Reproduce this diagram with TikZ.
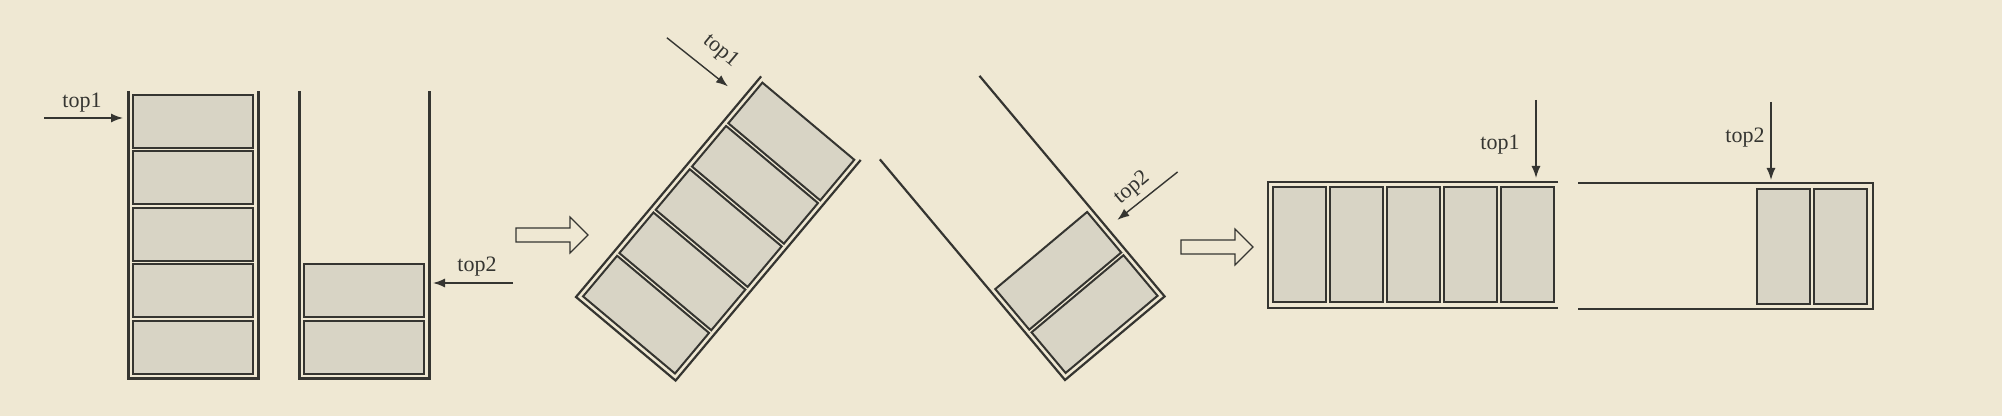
\documentclass[tikz,border=0pt]{standalone}
\usepackage{fontspec}
\setmainfont{Liberation Serif}
\usetikzlibrary{arrows.meta}

\definecolor{paper}{HTML}{EFE8D3}
\definecolor{cellgray}{HTML}{D8D4C5}
\definecolor{ink}{HTML}{353531}

\tikzset{
  wall/.style = {draw = ink, line width = 1.5pt, line join = miter},
  thin wall/.style = {wall, line width = 1.1pt},
  cell/.style = {draw = ink, line width = 1pt, fill = cellgray},
  pointer/.style = {draw = ink, line width = 0.7pt, -{Latex[length = 6pt, width = 4.5pt]}},
  toplabel/.style = {font = \fontsize{11}{13}\selectfont, text = ink, inner sep = 0pt},
  hollow arrow/.style = {draw = ink, line width = 0.6pt, fill = paper, line join = miter},
}

\begin{document}
\begin{tikzpicture}[x = 0.5pt, y = -0.5pt]
  \fill [paper] (0,0) rectangle (2002,416);
  \useasboundingbox (0,0) rectangle (2002,416);

  % standing stacks
  \begin{scope}[shift = {(128,379)}]
    \draw [wall] (0,-288) -- (0,0) -- (130,0) -- (130,-288);
    \foreach \k in {0,...,4}
      \draw [cell] (5,-5-56.5*\k) rectangle (125,-58-56.5*\k);
    \coordinate (tail1 a) at (-84,-261);
    \coordinate (tip1 a) at (-5,-261);
    \node [toplabel] (label1 a) at (-46,-276) {top1};
  \end{scope}
  \begin{scope}[shift = {(299,379)}]
    \draw [wall] (0,-288) -- (0,0) -- (130,0) -- (130,-288);
    \foreach \k in {0,1}
      \draw [cell] (5,-5-56.5*\k) rectangle (125,-58-56.5*\k);
    \coordinate (tail2 a) at (214,-96);
    \coordinate (tip2 a) at (134,-96);
    \node [toplabel] (label2 a) at (178,-112) {top2};
  \end{scope}
  \draw [pointer] (tail1 a) -- (tip1 a);
  \draw [pointer] (tail2 a) -- (tip2 a);

  % tilted stacks
  \begin{scope}[shift = {(576,297)}, rotate = -40]
    \draw [thin wall] (0,-288) -- (0,0) -- (130,0) -- (130,-288);
    \foreach \k in {0,...,4}
      \draw [cell] (5,-5-56.5*\k) rectangle (125,-58-56.5*\k);
    \coordinate (tail1 b) at (-97,-257);
    \coordinate (tip1 b) at (-19,-259);
    \node [toplabel, transform shape] (label1 b) at (-47,-281) {top1};
  \end{scope}
  \begin{scope}[shift = {(1065,380)}, rotate = 40]
    \draw [thin wall] (0,-288) -- (0,0) -- (130,0) -- (130,-288);
    \foreach \k in {0,1}
      \draw [cell] (5,-5-56.5*\k) rectangle (125,-58-56.5*\k);
    \coordinate (tail2 b) at (220,-87);
    \coordinate (tip2 b) at (143,-89);
    \node [toplabel, transform shape] (label2 b) at (175,-104) {top2};
  \end{scope}
  \draw [pointer] (tail1 b) -- (tip1 b);
  \draw [pointer] (tail2 b) -- (tip2 b);

  % lying stacks
  \begin{scope}[shift = {(1268,182)}, rotate = -90]
    \draw [wall, line width = 1.35pt] (0,-290) -- (0,0) -- (126,0) -- (126,-290);
    \foreach \k in {0,...,4}
      \draw [cell] (5,-5-57*\k) rectangle (120,-58-57*\k);
    \coordinate (tail1 c) at (-82,-268);
    \coordinate (tip1 c) at (-4,-268);
    \node [toplabel] (label1 c) at (-37,-232) {top1};
  \end{scope}
  \begin{scope}[shift = {(1873,309)}, rotate = 90]
    \draw [wall, line width = 1.35pt] (0,-295) -- (0,0) -- (126,0) -- (126,-295);
    \foreach \k in {0,1}
      \draw [cell] (5,-6-57*\k) rectangle (120,-59-57*\k);
    \coordinate (tail2 c) at (207,-102);
    \coordinate (tip2 c) at (129,-102);
    \node [toplabel] (label2 c) at (171,-128) {top2};
  \end{scope}
  \draw [pointer] (tail1 c) -- (tip1 c);
  \draw [pointer] (tail2 c) -- (tip2 c);

  % hollow step arrows
  \foreach \ax/\ay in {516/235, 1181/247}
    \draw [hollow arrow] (\ax,\ay) ++(0,-7) -- ++(54,0) -- ++(0,-11)
      -- ++(18,18) -- ++(-18,18) -- ++(0,-11) -- ++(-54,0) -- cycle;
\end{tikzpicture}
\end{document}
